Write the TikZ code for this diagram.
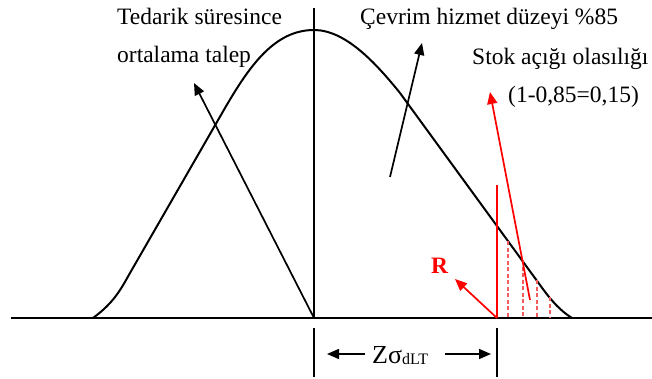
\documentclass[tikz,border=0pt]{standalone}
\usepackage{fontspec}
\setmainfont{Liberation Serif}
\usepackage{tikz}
\usetikzlibrary{arrows.meta}
\definecolor{stokink}{HTML}{000000}
\definecolor{stokred}{HTML}{FF0000}
\definecolor{stokpink}{HTML}{F25C5C}

\tikzset{
  lbl/.style={anchor=base west, inner sep=0pt, font=\fontsize{23.5}{26}\selectfont, text=stokink},
  blkarrow/.style={stokink, line width=1.7pt, -{Triangle[length=12pt,width=10pt]}},
  redarrow/.style={stokred, line width=1.7pt, -{Triangle[length=12pt,width=10pt]}},
  tailline/.style={stokpink, line width=1.2pt, dash pattern=on 4pt off 2.5pt}
}

\begin{document}
\begin{tikzpicture}[x=1pt,y=-1pt]
  \useasboundingbox (0,0) rectangle (652,379);

  % Axis and centre line
  \coordinate (axisL) at (11,318);
  \coordinate (axisR) at (652,318);
  \coordinate (mid) at (314,318);
  \coordinate (midtop) at (314,8);
  \draw[line width=2pt] (axisL) -- (axisR);
  \draw[line width=2pt] (midtop) -- (mid);

  % Demand curve during lead time
  \draw[line width=2pt, line join=round]
    (93,318) .. controls (115,302) and (122,287) .. (130,273) -- (225,108)
    .. controls (250,65) and (275,30) .. (314,30)
    .. controls (345,30) and (375,62) .. (400,93) -- (540,285)
    .. controls (552,302) and (562,312) .. (572,318);

  % Reorder point R and shortage tail
  \coordinate (rpt) at (497,318);
  \coordinate (rtop) at (497,185);
  \draw[stokred, line width=1.6pt] (rtop) -- (rpt);
  \draw[tailline] (508,241) -- (508,318);
  \draw[tailline] (523,260) -- (523,318);
  \draw[tailline] (537,280) -- (537,318);
  \draw[tailline] (550,297) -- (550,318);

  \node[lbl, font=\bfseries\fontsize{23.5}{26}\selectfont, text=stokred] (rlab) at (431,273) {R};
  \coordinate (rtip) at (455,279);
  \draw[redarrow] (rpt) -- (rtip);

  % Labels at the top
  \node[lbl] (tedarik) at (117,25) {Tedarik süresince};
  \node[lbl] (talep) at (117,63) {ortalama talep};
  \node[lbl] (cevrim) at (360,25) {Çevrim hizmet düzeyi \%85};
  \node[lbl] (stok) at (472,65) {Stok açığı olasılığı};
  \node[lbl] (oran) at (508,103) {(1-0,85=0,15)};

  % Pointer arrows
  \coordinate (talepTip) at (194,83);
  \coordinate (cevrimTail) at (390,177);
  \coordinate (cevrimTip) at (422,43);
  \coordinate (stokTail) at (530,300);
  \coordinate (stokTip) at (490,92);
  \draw[blkarrow] (mid) -- (talepTip);
  \draw[blkarrow] (cevrimTail) -- (cevrimTip);
  \draw[redarrow] (stokTail) -- (stokTip);

  % Safety stock span
  \draw[line width=1.5pt] (314,328) -- (314,377);
  \draw[line width=1.5pt] (497,328) -- (497,377);
  \node[lbl, font=\fontsize{26}{28}\selectfont] (zlab) at (372,363) {Zσ\raisebox{-1pt}{\fontsize{16}{17}\selectfont dLT}};
  \coordinate (zlTail) at (365,354);
  \coordinate (zlTip) at (327,354);
  \coordinate (zrTail) at (445,354);
  \coordinate (zrTip) at (491,354);
  \draw[blkarrow, line width=1.5pt] (zlTail) -- (zlTip);
  \draw[blkarrow, line width=1.5pt] (zrTail) -- (zrTip);
\end{tikzpicture}
\end{document}
